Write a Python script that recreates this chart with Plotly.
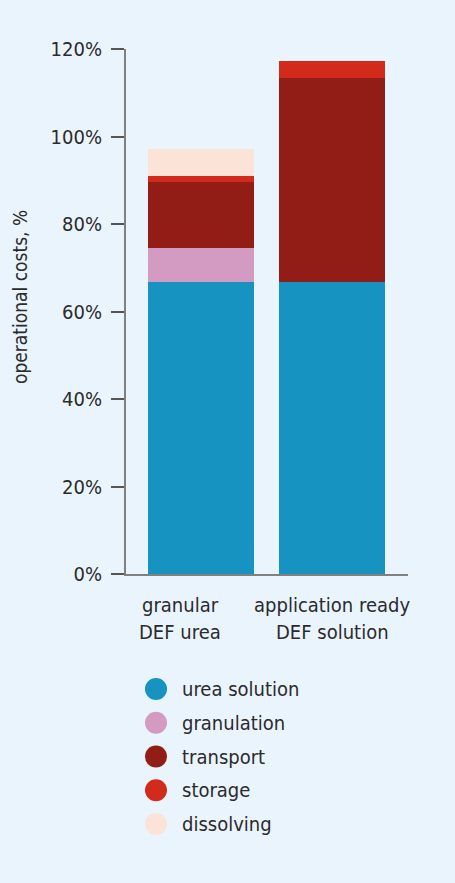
import plotly.graph_objects as go

# Operational cost breakdown (% of reference), two supply routes
categories = ["granular DEF urea", "application ready DEF solution"]
label_lines = [["granular", "DEF urea"], ["application ready", "DEF solution"]]
label_offsets = [-0.16, 0.0]  # horizontal nudge of each category label (category units)

series_names = ["urea solution", "granulation", "transport", "storage", "dissolving"]
urea_solution = [66.7, 66.7]
granulation = [7.8, 0.0]
transport = [15.1, 46.7]
storage = [1.4, 3.9]
dissolving = [6.1, 0.0]
series_values = [urea_solution, granulation, transport, storage, dissolving]
series_colors = ["#1793C1", "#D39BC1", "#911D16", "#D22A1B", "#FBE3D8"]

y_ticks = [0, 20, 40, 60, 80, 100, 120]
y_tick_labels = ["0%", "20%", "40%", "60%", "80%", "100%", "120%"]
y_title = "operational costs, %"

FONT = "DejaVu Sans Condensed, Liberation Sans Narrow, sans-serif"
TEXT = "#2b2b2b"
BG = "#EAF4FD"
AXIS = "#808080"

fig = go.Figure()

x_pos = list(range(len(categories)))
for name, vals, col in zip(series_names, series_values, series_colors):
    fig.add_trace(go.Bar(
        x=x_pos, y=vals, name=name, marker=dict(color=col, line=dict(width=0)),
        width=0.81, showlegend=False, hoverinfo="name+y",
    ))

# Round-dot legend drawn in its own small subplot
fig.add_trace(go.Scatter(
    x=[30] * len(series_names), y=list(range(len(series_names))),
    mode="markers", xaxis="x2", yaxis="y2", showlegend=False,
    marker=dict(size=22, color=series_colors, line=dict(width=0)),
    hoverinfo="skip",
))

annotations = []
for i, name in enumerate(series_names):
    annotations.append(dict(
        x=54, y=i, xref="x2", yref="y2", text=name, showarrow=False,
        xanchor="left", yanchor="middle", font=dict(family=FONT, size=20, color=TEXT),
    ))

for i, lines in enumerate(label_lines):
    for j, line in enumerate(lines):
        annotations.append(dict(
            x=x_pos[i] + label_offsets[i], y=0, xref="x", yref="y", text=line,
            showarrow=False, xanchor="center", yanchor="middle",
            yshift=-31 - 27 * j, font=dict(family=FONT, size=20, color=TEXT),
        ))

# Vertical axis title, sitting slightly above the axis midpoint
annotations.append(dict(
    x=-0.376, y=63.3, xref="paper", yref="y", text=y_title, textangle=-90,
    showarrow=False, xanchor="center", yanchor="middle",
    font=dict(family=FONT, size=19, color=TEXT),
))

fig.update_layout(
    width=455, height=883,
    margin=dict(l=126, r=47, t=49, b=30),
    paper_bgcolor=BG, plot_bgcolor=BG,
    barmode="stack", bargap=0,
    font=dict(family=FONT, size=20, color=TEXT),
    annotations=annotations,
    xaxis=dict(
        domain=[0, 1], range=[-0.573, 1.58], showgrid=False, zeroline=False,
        showticklabels=False, ticks="", showline=True, linecolor=AXIS, linewidth=2,
        anchor="y", fixedrange=True,
    ),
    yaxis=dict(
        domain=[0.347, 1], range=[0, 120], tickvals=y_ticks, ticktext=y_tick_labels,
        showgrid=False, zeroline=False, showline=True, linecolor=AXIS, linewidth=2,
        ticks="outside", ticklen=13, tickwidth=1.5, tickcolor="#555555",
        ticklabelstandoff=5, tickfont=dict(family=FONT, size=20, color=TEXT),
        anchor="x",
    ),
    xaxis2=dict(domain=[0, 1], range=[0, 282], visible=False, anchor="y2"),
    yaxis2=dict(domain=[0, 0.3], range=[4.859, -2.287], visible=False, anchor="x2"),
)

fig.write_html("out.html")
